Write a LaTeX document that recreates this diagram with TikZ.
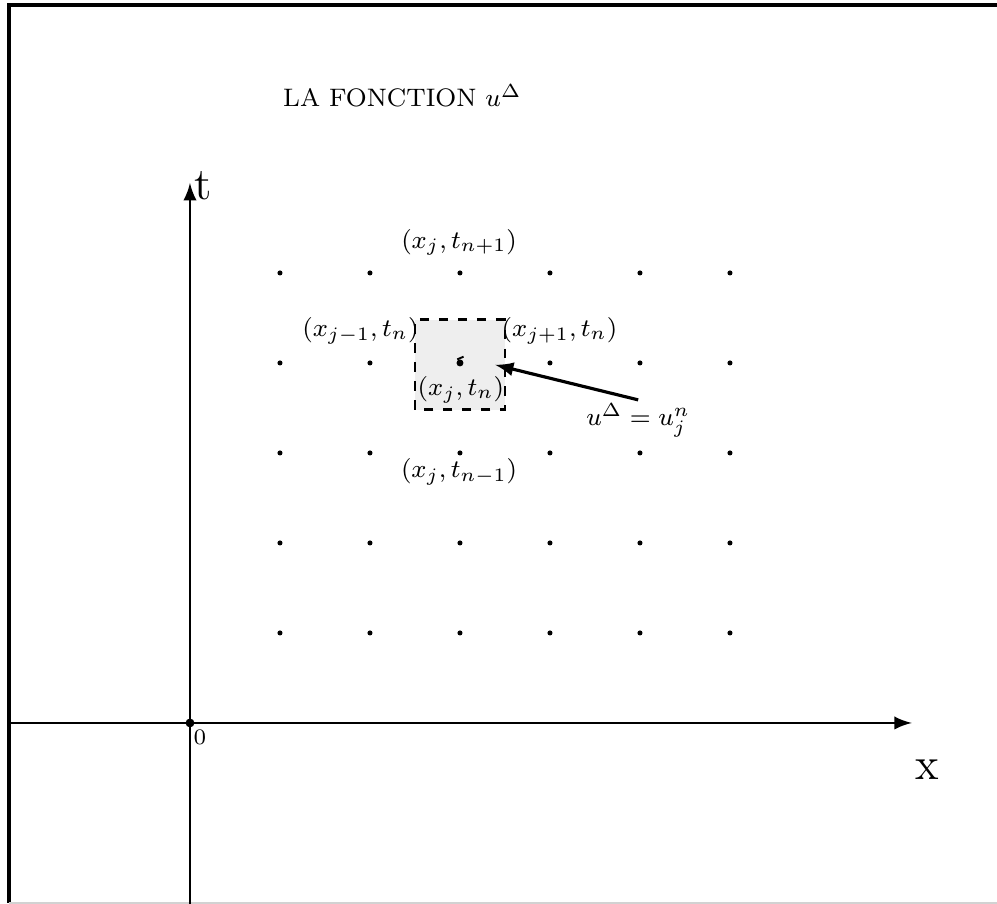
\documentclass[tikz,border=0pt]{standalone}
\usepackage{amsmath}
\tikzset{
  axe/.style={line width=0.9pt,-latex},
  etiq/.style={inner sep=1pt,font=\footnotesize},
  grand/.style={inner sep=1pt,font=\Large}
}
\begin{document}
\begin{tikzpicture}[x=1cm,y=1cm]
\useasboundingbox (-2.111,-2.011) rectangle (8.967,8.033);
% cadre
\draw[line width=1pt] (-2.011,-2.0)--(-2.011,7.978)--(9.2,7.978);
\draw[gray!35] (-2.011,-2.0)--(9.2,-2.0);

\coordinate (O) at (0,0);
\coordinate (Xg) at (-2.02,0);
\coordinate (Xd) at (8.02,0);
\coordinate (Tb) at (0,-2.1);
\coordinate (Th) at (0,6.0);
\coordinate (C) at (3,4);
\coordinate (cible) at (3.39,3.98);

% maille
\filldraw[fill=gray!13,draw=black,dashed,line width=0.9pt] (2.5,3.48) rectangle (3.5,4.48);

% axes
\draw[axe] (Xg)--(Xd);
\draw[axe] (Tb)--(Th);
\fill (O) circle (1.4pt);

% points de la grille
\foreach \i in {1,...,6}
  \foreach \j in {1,...,5}
    \fill (\i,\j) circle (0.8pt);
\fill (C) circle (1.1pt);
\draw[line width=0.6pt] (2.97,4.04)--(3.04,4.07);

\node[etiq] (titre) at (2.36,6.97) {LA FONCTION $u^{\Delta}$};
\node[grand] (t) at (0.15,5.97) {t};
\node[grand] (x) at (8.19,-0.52) {x};
\node[inner sep=0pt,font=\scriptsize] (zero) at (0.11,-0.16) {0};

\node[etiq] (haut) at (2.99,5.34) {$(x_j,t_{n+1})$};
\node[etiq] (gauche) at (1.894,4.356) {$(x_{j-1},t_n)$};
\node[etiq] (droite) at (4.106,4.356) {$(x_{j+1},t_n)$};
\node[etiq] (centre) at (3.01,3.70) {$(x_j,t_n)$};
\node[etiq] (bas) at (2.99,2.79) {$(x_j,t_{n-1})$};
\node[etiq] (uval) at (4.98,3.36) {$u^{\Delta}=u_j^n$};

\draw[line width=1pt,-latex] (uval.north)--(cible);
\end{tikzpicture}
\end{document}
